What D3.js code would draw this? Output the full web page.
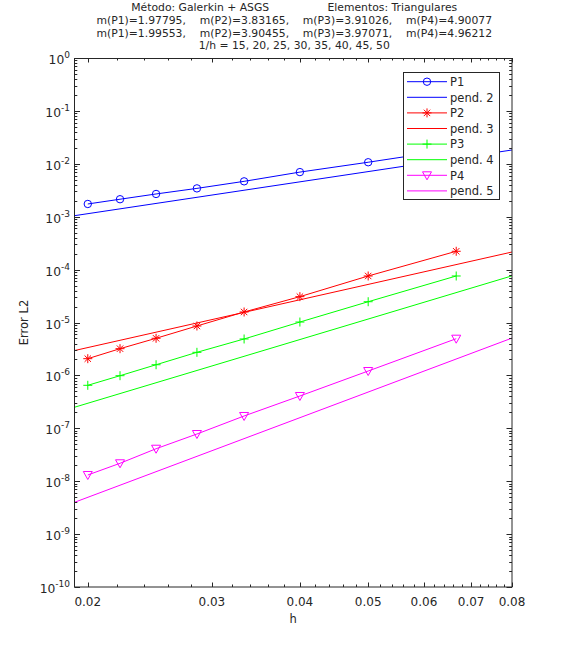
<!DOCTYPE html>
<html>
<head>
<meta charset="utf-8">
<script src="https://cdn.jsdelivr.net/npm/d3@7"></script>
<style>
  body { margin: 0; background: #fff; }
  text { font-family: "DejaVu Sans", sans-serif; fill: #262626; }
</style>
</head>
<body>
<script>
// error convergence plot, log-log

var hValues = [1/50, 1/45, 1/40, 1/35, 1/30, 1/25, 1/20, 1/15];

var errP1 = [1.74e-3, 2.14e-3, 2.69e-3, 3.43e-3, 4.66e-3, 6.97e-3, 1.07e-2, 1.91e-2];
var errP2 = [2.07e-6, 3.20e-6, 5.03e-6, 8.59e-6, 1.58e-5, 3.08e-5, 7.57e-5, 2.22e-4];
var errP3 = [6.50e-7, 9.87e-7, 1.59e-6, 2.73e-6, 4.88e-6, 1.02e-5, 2.47e-5, 7.57e-5];
var errP4 = [1.31e-8, 2.18e-8, 4.11e-8, 7.80e-8, 1.71e-7, 4.08e-7, 1.21e-6, 4.94e-6];

// reference slopes: C * h^p
var slopeOrders = [2, 3, 4, 5];
var slopeCoefs = [2.85, 0.42, 1.86, 1.55];

var seriesNames = ["P1", "P2", "P3", "P4"];
var slopeNames = ["pend. 2", "pend. 3", "pend. 4", "pend. 5"];
var colors = ["#0000ff", "#ff0000", "#00ff00", "#ff00ff"];
var markers = ["circle", "asterisk", "plus", "triangle"];

var xTicks = [0.02, 0.03, 0.04, 0.05, 0.06, 0.07, 0.08];
var xTickLabels = ["0.02", "0.03", "0.04", "0.05", "0.06", "0.07", "0.08"];
var yExponents = [0, -1, -2, -3, -4, -5, -6, -7, -8, -9, -10];

var titleLines = [
    "Método: Galerkin + ASGS                 Elementos: Triangulares",
    "m(P1)=1.97795,    m(P2)=3.83165,    m(P3)=3.91026,    m(P4)=4.90077",
    "m(P1)=1.99553,    m(P2)=3.90455,    m(P3)=3.97071,    m(P4)=4.96212",
    "1/h = 15, 20, 25, 30, 35, 40, 45, 50"
];

var W = 567, H = 661;
var pLeft = 74.5, pRight = 512, pTop = 58, pBottom = 587;

var svg = d3.select("body").append("svg").attr("width", W).attr("height", H);

var x = d3.scaleLog().domain([0.01915, 0.08]).range([pLeft, pRight]);
var y = d3.scaleLog().domain([1e-10, 1]).range([pBottom, pTop]);

// title
svg.append("g").selectAll("text").data(titleLines).enter().append("text")
    .attr("x", (pLeft + pRight) / 2 + 1)
    .attr("y", function(d, i) { return 11 + i * 12.8; })
    .attr("text-anchor", "middle")
    .attr("font-size", 10.8)
    .style("white-space", "pre")
    .text(function(d) { return d; });

// clip for the lines
svg.append("clipPath").attr("id", "plotclip").append("rect")
    .attr("x", pLeft).attr("y", pTop).attr("width", pRight - pLeft).attr("height", pBottom - pTop);

var plot = svg.append("g").attr("clip-path", "url(#plotclip)");

var line = d3.line().x(function(d) { return x(d[0]); }).y(function(d) { return y(d[1]); });

function markerPath(type, cx, cy, g, color) {
    if (type == "circle") {
        g.append("circle").attr("cx", cx).attr("cy", cy).attr("r", 3.7)
            .attr("fill", "none").attr("stroke", color).attr("stroke-width", 1);
    } else if (type == "plus") {
        g.append("path").attr("d", "M" + (cx - 4.5) + "," + cy + "h9M" + cx + "," + (cy - 4.5) + "v9")
            .attr("stroke", color).attr("stroke-width", 1).attr("fill", "none");
    } else if (type == "asterisk") {
        var s = 4.5, s2 = 3.2;
        g.append("path").attr("d",
            "M" + (cx - s) + "," + cy + "h" + (2 * s) +
            "M" + cx + "," + (cy - s) + "v" + (2 * s) +
            "M" + (cx - s2) + "," + (cy - s2) + "l" + (2 * s2) + "," + (2 * s2) +
            "M" + (cx - s2) + "," + (cy + s2) + "l" + (2 * s2) + "," + (-2 * s2))
            .attr("stroke", color).attr("stroke-width", 1).attr("fill", "none");
    } else if (type == "triangle") {
        g.append("path").attr("d",
            "M" + (cx - 4.5) + "," + (cy - 3.5) + "L" + (cx + 4.5) + "," + (cy - 3.5) + "L" + cx + "," + (cy + 4.5) + "Z")
            .attr("stroke", color).attr("stroke-width", 1).attr("fill", "none");
    }
}

var allErr = [errP1, errP2, errP3, errP4];
var xd = x.domain();

for (var s = 0; s < 4; s++) {
    var pts = hValues.map(function(h, i) { return [h, allErr[s][i]]; });
    plot.append("path").attr("d", line(pts))
        .attr("fill", "none").attr("stroke", colors[s]).attr("stroke-width", 1);
    for (var i = 0; i < pts.length; i++) {
        markerPath(markers[s], x(pts[i][0]), y(pts[i][1]), plot, colors[s]);
    }
    var c = slopeCoefs[s], p = slopeOrders[s];
    var ref = xd.map(function(h) { return [h, c * Math.pow(h, p)]; });
    plot.append("path").attr("d", line(ref))
        .attr("fill", "none").attr("stroke", colors[s]).attr("stroke-width", 1);
}

// axes box and ticks
var axes = svg.append("g").attr("stroke", "#262626").attr("stroke-width", 1).attr("fill", "none");
axes.append("rect").attr("x", pLeft).attr("y", pTop + 0.5).attr("width", pRight - pLeft).attr("height", pBottom - pTop - 0.5);

var xMinor = d3.range(0.022, 0.0799, 0.002).filter(function(v) {
    return xTicks.every(function(t) { return Math.abs(t - v) > 1e-6; });
});
xTicks.forEach(function(t) {
    var px = Math.round(x(t)) + 0.5;
    axes.append("path").attr("d", "M" + px + "," + pBottom + "v-4.5M" + px + "," + pTop + "v4.5");
});
xMinor.forEach(function(t) {
    var px = Math.round(x(t)) + 0.5;
    axes.append("path").attr("d", "M" + px + "," + pBottom + "v-2.5M" + px + "," + pTop + "v2.5");
});

yExponents.forEach(function(e) {
    var py = Math.round(y(Math.pow(10, e))) + 0.5;
    axes.append("path").attr("d", "M" + pLeft + "," + py + "h5.5M" + pRight + "," + py + "h-5.5");
    if (e > -10) {
        for (var k = 2; k < 10; k++) {
            var my = Math.round(y(k * Math.pow(10, e - 1))) + 0.5;
            axes.append("path").attr("d", "M" + pLeft + "," + my + "h2.8M" + pRight + "," + my + "h-2.8");
        }
    }
});

// tick labels
svg.append("g").selectAll("text").data(xTicks).enter().append("text")
    .attr("x", function(d) { return x(d); })
    .attr("y", 605.5)
    .attr("text-anchor", "middle")
    .attr("font-size", 12)
    .text(function(d, i) { return xTickLabels[i]; });

var yl = svg.append("g").selectAll("text").data(yExponents).enter().append("text")
    .attr("x", 70)
    .attr("y", function(d) { return y(Math.pow(10, d)) + 6; })
    .attr("text-anchor", "end")
    .attr("font-size", 12.3);
yl.append("tspan").text("10");
yl.append("tspan").attr("dy", -6).attr("font-size", 9).text(function(d) { return d; });

// axis labels
svg.append("text").attr("x", (pLeft + pRight) / 2).attr("y", 623)
    .attr("text-anchor", "middle").attr("font-size", 11.5).text("h");
svg.append("text").attr("transform", "translate(28," + ((pTop + pBottom) / 2) + ") rotate(-90)")
    .attr("text-anchor", "middle").attr("font-size", 11.5).text("Error L2");

// legend
var lg = svg.append("g");
lg.append("rect").attr("x", 403.5).attr("y", 72.5).attr("width", 96).attr("height", 127)
    .attr("fill", "#fff").attr("stroke", "#262626").attr("stroke-width", 1);
var rowH = 15.6;
for (var s = 0; s < 4; s++) {
    var ry = 81.7 + 2 * s * rowH;
    lg.append("line").attr("x1", 407).attr("x2", 447).attr("y1", ry).attr("y2", ry)
        .attr("stroke", colors[s]).attr("stroke-width", 1);
    markerPath(markers[s], 427, ry, lg, colors[s]);
    lg.append("text").attr("x", 450).attr("y", ry + 4.3).attr("font-size", 11.5).text(seriesNames[s]);
    var ry2 = ry + rowH;
    lg.append("line").attr("x1", 407).attr("x2", 447).attr("y1", ry2).attr("y2", ry2)
        .attr("stroke", colors[s]).attr("stroke-width", 1);
    lg.append("text").attr("x", 450).attr("y", ry2 + 4.3).attr("font-size", 11.5).text(slopeNames[s]);
}
</script>
</body>
</html>
